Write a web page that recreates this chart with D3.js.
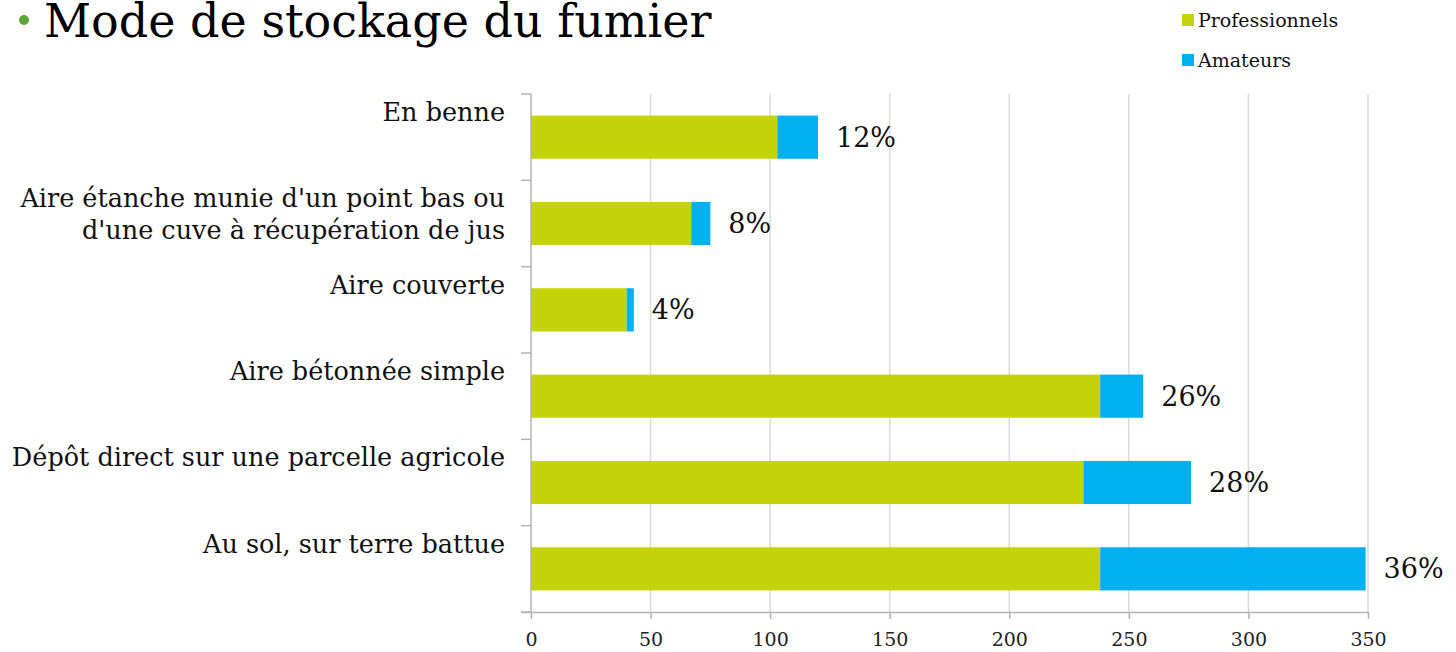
<!DOCTYPE html>
<html>
<head>
<meta charset="utf-8">
<script src="https://cdn.jsdelivr.net/npm/d3@7.9.0/dist/d3.min.js"></script>
<style>
  body { margin: 0; background: white; }
  svg { display: block; font-family: "DejaVu Serif", Georgia, serif; }
</style>
</head>
<body>
<div id="chart"></div>
<script>
// categories top to bottom
const categories = [
  "En benne",
  "Aire étanche munie d'un point bas ou|d'une cuve à récupération de jus",
  "Aire couverte",
  "Aire bétonnée simple",
  "Dépôt direct sur une parcelle agricole",
  "Au sol, sur terre battue"
];
const professionnels = [103, 67, 40, 238, 231, 238];
const amateurs = [17, 8, 3, 18, 45, 111];
const pctLabels = ["12%", "8%", "4%", "26%", "28%", "36%"];
const xTicks = [0, 50, 100, 150, 200, 250, 300, 350];
const seriesNames = ["Professionnels", "Amateurs"];
const colors = { Professionnels: "#c5d30b", Amateurs: "#00b0f0" };

const width = 1456;
const height = 652;
const margin = { top: 94, right: 88, bottom: 40, left: 531 };

const rows = categories.map((c, i) => ({
  cat: c,
  Professionnels: professionnels[i],
  Amateurs: amateurs[i],
  pct: pctLabels[i]
}));

const svg = d3.select("#chart")
  .append("svg")
  .attr("width", width)
  .attr("height", height);

const xScale = d3.scaleLinear()
  .domain([0, 350])
  .range([margin.left, 1368]);

const yScale = d3.scaleBand()
  .domain(categories)
  .range([margin.top, 612])
  .paddingInner(0.5)
  .paddingOuter(0.25);

// gridlines
svg.append("g")
  .selectAll("line")
  .data(xTicks.slice(1))
  .join("line")
  .attr("x1", d => xScale(d))
  .attr("x2", d => xScale(d))
  .attr("y1", margin.top)
  .attr("y2", 612)
  .attr("stroke", "#dadada")
  .attr("stroke-width", 1.5);

// stacked bars
const stack = d3.stack().keys(seriesNames)(rows);

svg.append("g")
  .selectAll("g")
  .data(stack)
  .join("g")
  .attr("fill", d => colors[d.key])
  .selectAll("rect")
  .data(d => d)
  .join("rect")
  .attr("x", d => xScale(d[0]))
  .attr("y", d => yScale(d.data.cat))
  .attr("width", d => xScale(d[1]) - xScale(d[0]))
  .attr("height", yScale.bandwidth());

// x axis
const xAxis = svg.append("g")
  .attr("transform", "translate(0,612)")
  .call(d3.axisBottom(xScale).tickValues(xTicks).tickSize(7).tickPadding(14).tickSizeOuter(0));
xAxis.select(".domain").attr("stroke", "#b3b3b3").attr("stroke-width", 1.5)
  .attr("d", `M${margin.left - 10},0.5H${xScale(350)}`);
xAxis.selectAll(".tick line").attr("stroke", "#b3b3b3").attr("stroke-width", 1.5);
xAxis.selectAll(".tick text")
  .attr("font-size", "19px")
  .attr("font-family", "\"DejaVu Serif\", serif")
  .attr("fill", "#222");

// y axis line and ticks at band boundaries
const step = yScale.step();
const yBounds = d3.range(categories.length + 1).map(i => margin.top + i * step);
svg.append("line")
  .attr("x1", margin.left).attr("x2", margin.left)
  .attr("y1", margin.top).attr("y2", 612)
  .attr("stroke", "#b3b3b3").attr("stroke-width", 1.5);
svg.append("g")
  .selectAll("line")
  .data(yBounds)
  .join("line")
  .attr("x1", margin.left - 10).attr("x2", margin.left)
  .attr("y1", d => d).attr("y2", d => d)
  .attr("stroke", "#b3b3b3").attr("stroke-width", 1.5);

// category labels
const catText = svg.append("g")
  .selectAll("text")
  .data(categories)
  .join("text")
  .attr("text-anchor", "end")
  .attr("font-size", "25.5px")
  .attr("fill", "#111")
  .attr("y", d => yScale(d) - yScale.bandwidth() / 2 + 27);
catText.each(function (d) {
  const t = d3.select(this);
  const y = +t.attr("y");
  d.split("|").forEach((line, i) => {
    t.append("tspan").attr("x", 505).attr("y", y + i * 32).text(line);
  });
});

// percentage labels
svg.append("g")
  .selectAll("text")
  .data(rows)
  .join("text")
  .attr("x", d => xScale(d.Professionnels + d.Amateurs) + 18)
  .attr("y", d => yScale(d.cat) + yScale.bandwidth() / 2)
  .attr("dy", "0.35em")
  .attr("font-size", "27px")
  .attr("fill", "#111")
  .text(d => d.pct);

// title
svg.append("circle").attr("cx", 24).attr("cy", 20).attr("r", 5).attr("fill", "#5aa83a");
svg.append("text")
  .attr("x", 44)
  .attr("y", 37)
  .attr("font-size", "46px")
  .attr("fill", "#000")
  .text("Mode de stockage du fumier");

// legend
const legend = svg.append("g")
  .selectAll("g")
  .data(seriesNames)
  .join("g")
  .attr("transform", (d, i) => `translate(1182,${14 + i * 40})`);
legend.append("rect")
  .attr("width", 12).attr("height", 12)
  .attr("fill", d => colors[d]);
legend.append("text")
  .attr("x", 16).attr("y", 13)
  .attr("font-size", "19px")
  .attr("fill", "#111")
  .text(d => d);
</script>
</body>
</html>
